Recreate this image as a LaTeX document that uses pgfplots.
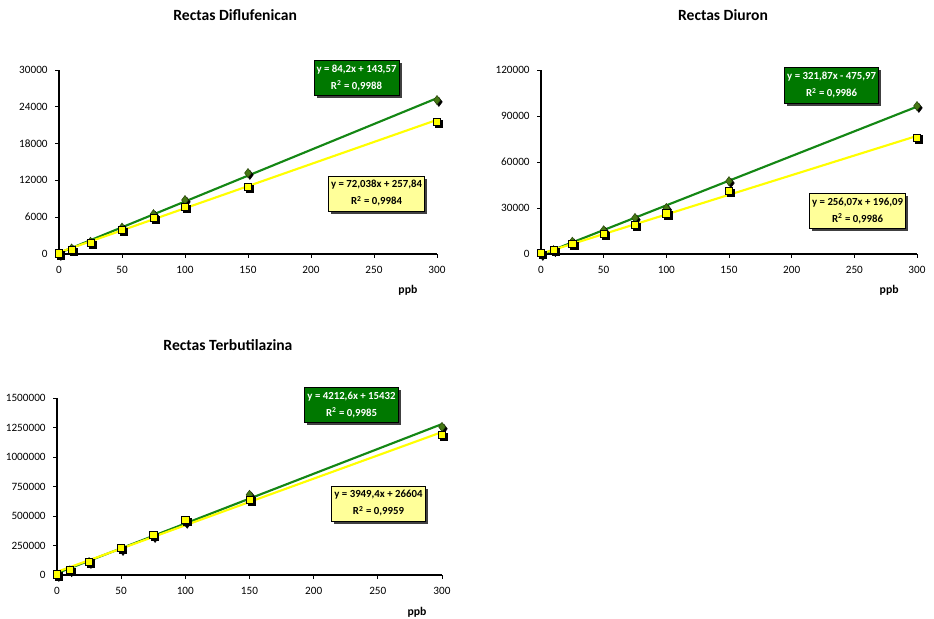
\documentclass[border=0pt]{standalone}
\usepackage{pgfplots}
\pgfplotsset{compat=1.18}
\usepackage{fontspec}
\setmainfont{Carlito}
\usetikzlibrary{shadows}

\definecolor{fitgreen}{RGB}{20,135,20}
\definecolor{fityellow}{RGB}{255,255,0}
\definecolor{markgreen}{RGB}{70,120,20}
\definecolor{boxgreen}{RGB}{0,120,0}
\definecolor{boxyellow}{RGB}{255,255,153}

% Calibration points: concentration (ppb) vs. signal
\pgfplotstableread{
x    g       y
0    0       100
10   900     700
25   2000    1800
50   4300    3900
75   6500    5900
100  8800    7700
150  13200   11000
300  25100   21500
}\diflu
\pgfplotstableread{
x    g       y
0    0       500
10   2500    2500
25   8000    6500
50   15500   13000
75   23500   19000
100  30000   26500
150  47500   41000
300  96500   76000
}\diuron
\pgfplotstableread{
x    g        y
0    0        5000
10   40000    45000
25   110000   115000
50   220000   230000
75   330000   340000
100  450000   465000
150  680000   640000
300  1255000  1185000
}\terbu

\pgfplotsset{
  every axis title shift=0pt,
  calib/.style={
    scale only axis,
    axis x line=bottom, axis y line=left,
    axis line style={-, black, line width=0.8pt},
    every tick/.style={black, line width=0.6pt},
    tick align=outside, major tick length=3pt,
    xmin=0, xmax=300, xtick={0,50,...,300},
    ymin=0,
    tick label style={font=\fontsize{8.4}{9}\selectfont},
    /pgf/number format/assume math mode=true,
    scaled y ticks=false,
    /pgf/number format/fixed,
    /pgf/number format/1000 sep={},
    xticklabel style={yshift=-3pt},
    yticklabel style={xshift=-2pt},
    clip=false,
    title style={font=\fontsize{11.7}{13}\selectfont\bfseries, anchor=center},
    xlabel style={font=\fontsize{8.8}{9}\selectfont\bfseries, anchor=center},
    xlabel={ppb},
  },
  shadowmark/.style={only marks, black, mark options={xshift=1.4pt, yshift=-1.4pt, fill=black, draw=black}},
  gmark/.style={only marks, mark=diamond*, mark size=3.4pt, mark options={fill=markgreen, draw=markgreen!60!black, line width=0.4pt}},
  ymark/.style={only marks, mark=square*, mark size=2.7pt, mark options={fill=fityellow, draw=black, line width=0.5pt}},
  gline/.style={fitgreen, line width=1.6pt, no marks},
  yline/.style={fityellow, line width=1.6pt, no marks},
}

\tikzset{
  gbox/.style={draw=black, line width=0.5pt, fill=boxgreen, text=white,
    font=\fontsize{8.1}{12.75}\selectfont\bfseries, align=center,
    inner xsep=2pt, inner ysep=3.5pt,
    drop shadow={shadow xshift=2pt, shadow yshift=-2pt, fill=black!75, opacity=1}},
  ybox/.style={gbox, fill=boxyellow, text=black},
}

\begin{document}
\begin{tikzpicture}
\useasboundingbox (0,0) rectangle (700.5pt,463.5pt);

% ---- Diflufenican ----
\begin{axis}[calib, at={(44.25pt,273pt)}, anchor=south west,
  width=283.5pt, height=138pt,
  ymax=30000, ytick={0,6000,...,30000},
  title={Rectas Diflufenican}, title style={at={(rel axis cs:0.466,1.30)}},
  xlabel style={at={(rel axis cs:0.923,0)}, yshift=-27pt}]
  \addplot[shadowmark, mark=diamond*, mark size=3.4pt] table[x=x,y=g]{\diflu};
  \addplot[gmark] table[x=x,y=g]{\diflu};
  \addplot[shadowmark, mark=square*, mark size=2.7pt] table[x=x,y=y]{\diflu};
  \addplot[ymark] table[x=x,y=y]{\diflu};
  \addplot[gline] coordinates {(0,143.57) (300,25403.57)};
  \addplot[yline] coordinates {(0,257.84) (300,21869.24)};
  \node[gbox] at (rel axis cs:0.787,0.959) {y = 84,2x + 143,57\\R$^{\mathbf{2}}$ = 0,9988};
  \node[ybox] at (rel axis cs:0.84,0.329) {y = 72,038x + 257,84\\R$^{\mathbf{2}}$ = 0,9984};
\end{axis}

% ---- Diuron ----
\begin{axis}[calib, at={(405.75pt,273pt)}, anchor=south west,
  width=282pt, height=138pt,
  ymax=120000, ytick={0,30000,...,120000},
  title={Rectas Diuron}, title style={at={(rel axis cs:0.484,1.30)}},
  xlabel style={at={(rel axis cs:0.926,0)}, yshift=-27pt}]
  \addplot[shadowmark, mark=diamond*, mark size=3.4pt] table[x=x,y=g]{\diuron};
  \addplot[gmark] table[x=x,y=g]{\diuron};
  \addplot[shadowmark, mark=square*, mark size=2.7pt] table[x=x,y=y]{\diuron};
  \addplot[ymark] table[x=x,y=y]{\diuron};
  \addplot[gline] coordinates {(0,-475.97) (300,96085.03)};
  \addplot[yline] coordinates {(0,196.09) (300,77017.09)};
  \node[gbox] at (rel axis cs:0.773,0.916) {y = 321,87x - 475,97\\R$^{\mathbf{2}}$ = 0,9986};
  \node[ybox] at (rel axis cs:0.842,0.234) {y = 256,07x + 196,09\\R$^{\mathbf{2}}$ = 0,9986};
\end{axis}

% ---- Terbutilazina ----
\begin{axis}[calib, at={(42.75pt,32.25pt)}, anchor=south west,
  width=288.75pt, height=132.75pt,
  ymax=1500000, ytick={0,250000,...,1500000},
  title={Rectas Terbutilazina}, title style={at={(rel axis cs:0.444,1.30)}},
  xlabel style={at={(rel axis cs:0.935,0)}, yshift=-27.75pt}]
  \addplot[shadowmark, mark=diamond*, mark size=3.4pt] table[x=x,y=g]{\terbu};
  \addplot[gmark] table[x=x,y=g]{\terbu};
  \addplot[shadowmark, mark=square*, mark size=2.7pt] table[x=x,y=y]{\terbu};
  \addplot[ymark] table[x=x,y=y]{\terbu};
  \addplot[gline] coordinates {(0,15432) (300,1279212)};
  \addplot[yline] coordinates {(0,26604) (300,1211424)};
  \node[gbox] at (rel axis cs:0.765,0.963) {y = 4212,6x + 15432\\R$^{\mathbf{2}}$ = 0,9985};
  \node[ybox] at (rel axis cs:0.835,0.404) {y = 3949,4x + 26604\\R$^{\mathbf{2}}$ = 0,9959};
\end{axis}
\end{tikzpicture}
\end{document}
